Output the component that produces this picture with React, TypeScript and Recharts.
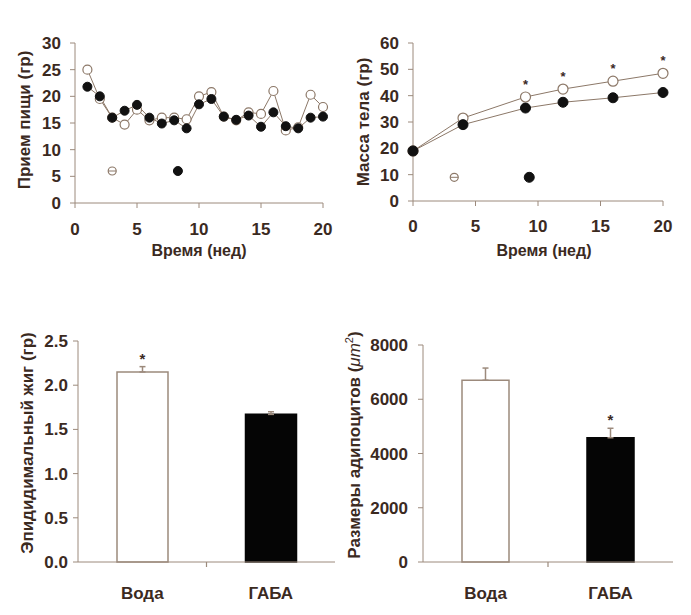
import React from 'react';
import {
  ComposedChart, Line, XAxis, YAxis, BarChart, Bar, Cell, ErrorBar, LabelList,
} from 'recharts';

// food intake per week
const intakeWeeks = [1, 2, 3, 4, 5, 6, 7, 8, 9, 10, 11, 12, 13, 14, 15, 16, 17, 18, 19, 20];
const intakeWater = [25, 19.5, 16, 14.7, 17.5, 15.5, 16, 16, 15.7, 20, 20.8, 16.2, 15.5, 17, 16.7, 21, 13.6, 14.2, 20.3, 18];
const intakeGaba = [21.8, 20, 16, 17.3, 18.4, 16, 14.9, 15.5, 14, 18.5, 19.5, 16.2, 15.6, 16.4, 14.3, 17, 14.4, 14, 16, 16.2];
const intakeKeyWater = [{ week: 3, v: 6 }];
const intakeKeyGaba = [{ week: 8.3, v: 6 }];

// body mass
const massWeeks = [0, 4, 9, 12, 16, 20];
const massWater = [19, 31.5, 39.5, 42.5, 45.5, 48.5];
const massGaba = [19, 29, 35.3, 37.5, 39.2, 41.2];
const massSig = [false, false, true, true, true, true];
const massKeyWater = [{ week: 3.3, v: 9 }];
const massKeyGaba = [{ week: 9.3, v: 9 }];

// bars
const groups = ['Вода', 'ГАБА'];
const fatValues = [2.15, 1.67];
const fatErrors = [0.06, 0.03];
const fatSig = [true, false];
const cellValues = [6700, 4580];
const cellErrors = [450, 350];
const cellSig = [false, true];

const weekTicks = [0, 5, 10, 15, 20];
const intakeTicks = [0, 5, 10, 15, 20, 25, 30];
const massTicks = [0, 10, 20, 30, 40, 50, 60];
const fatTicks = [0, 0.5, 1, 1.5, 2, 2.5];
const cellTicks = [0, 2000, 4000, 6000, 8000];

const TEXT = '#3b2a1f';
const AXIS = '#9c8a7c';
const LINE = '#8c7868';
const FONT = '"Liberation Sans", Arial, sans-serif';

const intakeData = intakeWeeks.map((w, i) => ({ week: w, water: intakeWater[i], gaba: intakeGaba[i] }));
const massData = massWeeks.map((w, i) => ({ week: w, water: massWater[i], gaba: massGaba[i] }));
const fatData = groups.map((g, i) => ({ name: g, value: fatValues[i], err: [0, fatErrors[i]], sig: fatSig[i] }));
const cellData = groups.map((g, i) => ({ name: g, value: cellValues[i], err: [0, cellErrors[i]], sig: cellSig[i] }));

const tickStyle = { fill: TEXT, fontSize: 17, fontWeight: 'bold' as const, fontFamily: FONT };

const openDot = { r: 4.5, fill: '#fff', stroke: LINE, strokeWidth: 1.2 };
const fullDot = { r: 4.5, fill: '#111', stroke: '#111', strokeWidth: 1 };

// key marker: small open circle with a bar through it
const KeyOpen = (p: any) => {
  if (p.cx == null || p.cy == null) return null;
  return (
    <g>
      <circle cx={p.cx} cy={p.cy} r={4} fill="#fff" stroke={LINE} strokeWidth={1.2} />
      <line x1={p.cx - 4} y1={p.cy} x2={p.cx + 4} y2={p.cy} stroke={LINE} strokeWidth={1} />
    </g>
  );
};

const VTitle = ({ x, y, children }: any) => (
  <div style={{
    position: 'absolute', left: x, top: y, transform: 'translate(-50%, -50%) rotate(-90deg)',
    whiteSpace: 'nowrap', fontFamily: FONT, fontWeight: 'bold', fontSize: 17, color: TEXT,
  }}>{children}</div>
);

const HTitle = ({ x, y, children }: any) => (
  <div style={{
    position: 'absolute', left: x, top: y, transform: 'translate(-50%, -50%)',
    whiteSpace: 'nowrap', fontFamily: FONT, fontWeight: 'bold', fontSize: 16, color: TEXT,
  }}>{children}</div>
);

const CatTick = ({ x, y, payload, index, band }: any) => {
  const off = payload && payload.offset ? payload.offset : band;
  return (
    <g>
      <text x={x} y={y + 37} textAnchor="middle" fill={TEXT} fontSize={17} fontWeight="bold" fontFamily={FONT}>
        {payload.value}
      </text>
      {index === 0 && <line x1={x + off} y1={y} x2={x + off} y2={y + 5} stroke={AXIS} strokeWidth={1.2} />}
    </g>
  );
};

const barStar = (errs: number[], sigs: boolean[], values: number[]) => (p: any) => {
  const i = p.index;
  if (!sigs[i]) return null;
  const perUnit = p.height / values[i];
  const top = p.y - errs[i] * perUnit;
  return (
    <text x={p.x + p.width / 2} y={top - 3} textAnchor="middle" fill={TEXT} fontSize={15} fontFamily={FONT} fontWeight="bold">*</text>
  );
};

export default function App() {
  return (
    <div style={{ position: 'absolute', left: 0, top: 0, width: 691, height: 615, background: '#fff' }}>
      {/* food intake */}
      <div style={{ position: 'absolute', left: 0, top: 0 }}>
        <ComposedChart width={345} height={275} data={intakeData} margin={{ top: 43, right: 22, left: 0, bottom: 0 }}>
          <XAxis dataKey="week" type="number" domain={[0, 20]} ticks={weekTicks} height={72}
            stroke={AXIS} tickSize={5} tickMargin={15} tick={tickStyle} />
          <YAxis type="number" domain={[0, 30]} ticks={intakeTicks} width={75}
            stroke={AXIS} tickSize={5} tickMargin={9} tick={tickStyle} />
          <Line dataKey="water" stroke={LINE} strokeWidth={1} dot={openDot} isAnimationActive={false} />
          <Line dataKey="gaba" stroke={LINE} strokeWidth={1} dot={fullDot} isAnimationActive={false} />
          <Line data={intakeKeyWater} dataKey="v" stroke="none" dot={<KeyOpen />} isAnimationActive={false} />
          <Line data={intakeKeyGaba} dataKey="v" stroke="none" dot={fullDot} isAnimationActive={false} />
        </ComposedChart>
      </div>
      <VTitle x={25} y={120}>Прием пищи (гр)</VTitle>
      <HTitle x={199} y={251}>Время (нед)</HTitle>

      {/* body mass */}
      <div style={{ position: 'absolute', left: 345, top: 0 }}>
        <ComposedChart width={346} height={275} data={massData} margin={{ top: 43, right: 28, left: 0, bottom: 0 }}>
          <XAxis dataKey="week" type="number" domain={[0, 20]} ticks={weekTicks} height={74}
            stroke={AXIS} tickSize={5} tickMargin={14} tick={tickStyle} />
          <YAxis type="number" domain={[0, 60]} ticks={massTicks} width={68}
            stroke={AXIS} tickSize={5} tickMargin={9} tick={tickStyle} />
          <Line dataKey="water" stroke={LINE} strokeWidth={1} dot={{ ...openDot, r: 5 }} isAnimationActive={false}>
            <LabelList dataKey="water" content={(p: any) => massSig[p.index] ? (
              <text x={p.x} y={p.y - 8} textAnchor="middle" fill={TEXT} fontSize={13} fontWeight="bold" fontFamily={FONT}>*</text>
            ) : null} />
          </Line>
          <Line dataKey="gaba" stroke={LINE} strokeWidth={1} dot={{ ...fullDot, r: 5 }} isAnimationActive={false} />
          <Line data={massKeyWater} dataKey="v" stroke="none" dot={<KeyOpen />} isAnimationActive={false} />
          <Line data={massKeyGaba} dataKey="v" stroke="none" dot={{ ...fullDot, r: 5 }} isAnimationActive={false} />
        </ComposedChart>
      </div>
      <VTitle x={364} y={122}>Масса тела (гр)</VTitle>
      <HTitle x={544} y={251}>Время (нед)</HTitle>

      {/* epididymal fat */}
      <div style={{ position: 'absolute', left: 0, top: 300 }}>
        <BarChart width={345} height={315} data={fatData} margin={{ top: 41, right: 10, left: 0, bottom: 0 }}>
          <XAxis dataKey="name" height={53} stroke={AXIS} tickLine={false} tickSize={0} tickMargin={0}
            tick={<CatTick band={64} />} />
          <YAxis type="number" domain={[0, 2.5]} ticks={fatTicks} width={78} stroke={AXIS}
            tickSize={5} tickMargin={5} tick={tickStyle} tickFormatter={(v: number) => v.toFixed(1)} />
          <Bar dataKey="value" barSize={51} isAnimationActive={false}>
            {fatData.map((d, i) => (
              <Cell key={d.name} fill={i === 0 ? '#fff' : '#050505'} stroke={i === 0 ? AXIS : '#050505'} strokeWidth={1.5} />
            ))}
            <ErrorBar dataKey="err" width={3} stroke={AXIS} strokeWidth={1.5} direction="y" />
            <LabelList dataKey="value" content={barStar(fatErrors, fatSig, fatValues)} />
          </Bar>
        </BarChart>
      </div>
      <VTitle x={28} y={443}>Эпидидимальный жиг (гр)</VTitle>

      {/* adipocyte size */}
      <div style={{ position: 'absolute', left: 345, top: 300 }}>
        <BarChart width={346} height={315} data={cellData} margin={{ top: 45, right: 18, left: 0, bottom: 0 }}>
          <XAxis dataKey="name" height={53} stroke={AXIS} tickLine={false} tickSize={0} tickMargin={0}
            tick={<CatTick band={62} />} />
          <YAxis type="number" domain={[0, 8000]} ticks={cellTicks} width={78} stroke={AXIS}
            tickSize={5} tickMargin={10} tick={tickStyle} />
          <Bar dataKey="value" barSize={47} isAnimationActive={false}>
            {cellData.map((d, i) => (
              <Cell key={d.name} fill={i === 0 ? '#fff' : '#050505'} stroke={i === 0 ? AXIS : '#050505'} strokeWidth={1.5} />
            ))}
            <ErrorBar dataKey="err" width={3} stroke={AXIS} strokeWidth={1.5} direction="y" />
            <LabelList dataKey="value" content={barStar(cellErrors, cellSig, cellValues)} />
          </Bar>
        </BarChart>
      </div>
      <VTitle x={354} y={445}>
        Размеры адипоцитов (<i style={{ fontWeight: 'normal' }}>μm</i><sup style={{ fontSize: 11, fontWeight: 'normal' }}>2</sup>)
      </VTitle>
    </div>
  );
}
